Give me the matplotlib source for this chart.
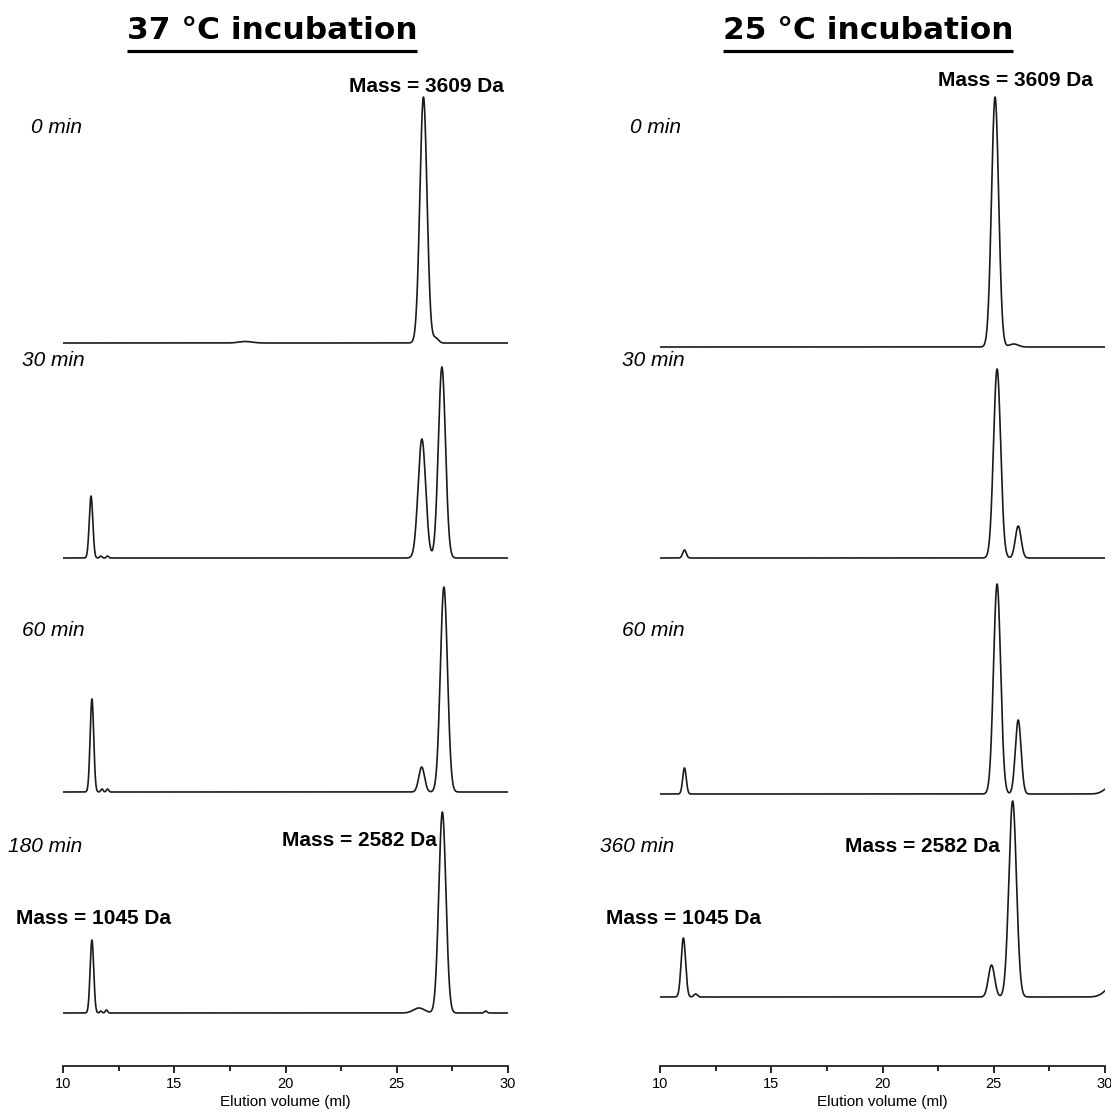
import numpy as np
import matplotlib
matplotlib.use("Agg")
import matplotlib.pyplot as plt
from matplotlib.ticker import MultipleLocator

plt.rcParams['font.family'] = ['Liberation Sans', 'DejaVu Sans']

W, H = 1111, 1115

# ---- data: peaks (centre ml, height a.u., sigma ml) per trace ----
titles = ["37 °C incubation", "25 °C incubation"]
left_labels = ["0 min", "30 min", "60 min", "180 min"]
right_labels = ["0 min", "30 min", "60 min", "360 min"]

left_centres = [
    [26.20, 26.75, 18.2],
    [11.26, 11.7, 12.0, 26.13, 27.03],
    [11.30, 11.75, 12.0, 26.12, 27.12],
    [11.30, 11.7, 11.95, 26.0, 27.05, 29.0],
]
left_heights = [
    [246, 5, 1.5],
    [62, 2, 2, 119, 191],
    [93, 3, 3, 25, 205],
    [73, 2, 3, 5, 201, 2],
]
left_sigmas = [
    [0.16, 0.12, 0.3],
    [0.08, 0.05, 0.05, 0.17, 0.16],
    [0.08, 0.05, 0.05, 0.13, 0.16],
    [0.08, 0.05, 0.05, 0.25, 0.16, 0.06],
]

right_centres = [
    [25.06, 25.9],
    [11.10, 25.15, 26.10],
    [11.10, 25.15, 26.10, 30.3],
    [11.05, 11.6, 24.90, 25.85, 30.4],
]
right_heights = [
    [250, 3],
    [8, 189, 32],
    [26, 210, 74, 8],
    [59, 3, 32, 196, 12],
]
right_sigmas = [
    [0.16, 0.2],
    [0.08, 0.16, 0.13],
    [0.08, 0.16, 0.13, 0.3],
    [0.1, 0.08, 0.14, 0.17, 0.35],
]

mass_labels = ["Mass = 3609 Da", "Mass = 2582 Da", "Mass = 1045 Da"]

# ---- layout (pixels in reference) ----
ax_bottom_px = 1066
ax_top_px = 60
left_baselines_px = [343, 558, 792, 1013]
right_baselines_px = [347, 558, 794, 997]

fig = plt.figure(figsize=(W / 100, H / 100), dpi=100)


def fx(px):
    return px / W


def fy(py):
    return 1 - py / H


def make_col(x0_px, x1_px, centres, heights, sigmas, baselines):
    ax = fig.add_axes([fx(x0_px), fy(ax_bottom_px), (x1_px - x0_px) / W,
                       (ax_bottom_px - ax_top_px) / H])
    ax.set_xlim(10, 30)
    ax.set_ylim(0, ax_bottom_px - ax_top_px)
    x = np.linspace(10, 30, 3000)
    for c, h, s, b in zip(centres, heights, sigmas, baselines):
        y = np.zeros_like(x)
        for ci, hi, si in zip(c, h, s):
            y += hi * np.exp(-0.5 * ((x - ci) / si) ** 2)
        ax.plot(x, y + (ax_bottom_px - b), color="#1a1a1a", lw=1.2,
                solid_joinstyle="round")
    for sp in ["top", "left", "right"]:
        ax.spines[sp].set_visible(False)
    ax.spines["bottom"].set_linewidth(1.3)
    ax.spines["bottom"].set_color("#222222")
    ax.set_yticks([])
    ax.xaxis.set_major_locator(MultipleLocator(5))
    ax.xaxis.set_minor_locator(MultipleLocator(2.5))
    ax.tick_params(axis="x", which="major", length=5, width=1.2,
                   labelsize=10.5, pad=3)
    ax.tick_params(axis="x", which="minor", length=3.5, width=1.2)
    ax.set_xlabel("Elution volume (ml)", fontsize=11, labelpad=3)
    return ax


make_col(63, 508, left_centres, left_heights, left_sigmas, left_baselines_px)
make_col(660, 1105, right_centres, right_heights, right_sigmas,
         right_baselines_px)

# titles with underline matched to text extent
renderer = fig.canvas.get_renderer()
for t, cx in zip(titles, [272, 868]):
    txt = fig.text(fx(cx), fy(39), t, ha="center", va="baseline",
                   fontsize=22.5, fontweight="bold", family="DejaVu Sans")
    bb = txt.get_window_extent(renderer)
    fig.add_artist(plt.Line2D([bb.x0 / W, bb.x1 / W], [fy(51), fy(51)],
                              color="black", lw=2.3, solid_capstyle="butt"))

# time labels
left_x = [31, 22, 22, 8]
right_x = [630, 622, 622, 600]
label_y = [127, 361, 630, 847]
for lab, xx, yy in zip(left_labels, left_x, label_y):
    fig.text(fx(xx), fy(yy), lab, ha="left", va="center", fontsize=15,
             style="italic")
for lab, xx, yy in zip(right_labels, right_x, label_y):
    fig.text(fx(xx), fy(yy), lab, ha="left", va="center", fontsize=15,
             style="italic")

# mass labels
kw = dict(fontsize=15, fontweight="bold", va="center")
fig.text(fx(504), fy(86), mass_labels[0], ha="right", **kw)
fig.text(fx(1093), fy(81), mass_labels[0], ha="right", **kw)
fig.text(fx(437), fy(840), mass_labels[1], ha="right", **kw)
fig.text(fx(1000), fy(846), mass_labels[1], ha="right", **kw)
fig.text(fx(16), fy(918), mass_labels[2], ha="left", **kw)
fig.text(fx(606), fy(918), mass_labels[2], ha="left", **kw)

fig.savefig("out.png", dpi=100)
